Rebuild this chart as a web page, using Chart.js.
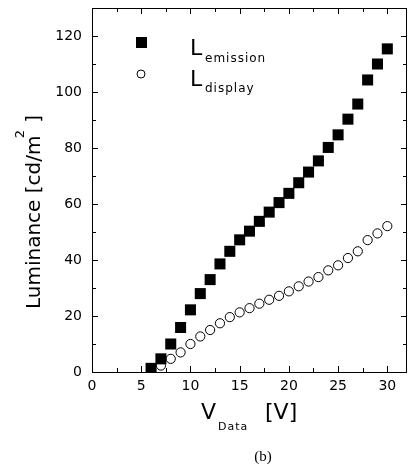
<!DOCTYPE html>
<html>
<head>
<meta charset="utf-8">
<script src="https://cdn.jsdelivr.net/npm/chart.js@4/dist/chart.umd.min.js"></script>
<style>
  html, body { margin: 0; padding: 0; background: #fff; }
  #wrap { width: 408px; height: 469px; }
</style>
</head>
<body>
<div id="wrap"><canvas id="lumChart" width="408" height="469"></canvas></div>
<script>
// voltages (V_Data)
const vData = [6, 7, 8, 9, 10, 11, 12, 13, 14, 15, 16, 17, 18, 19, 20, 21, 22, 23, 24, 25, 26, 27, 28, 29, 30];
// luminance values
const lEmission = [1.3, 4.7, 10, 15.9, 22.2, 28, 33, 38.6, 43.1, 47.2, 50.3, 53.8, 57.1, 60.5, 63.8, 67.6, 71.4, 75.4, 80.2, 84.7, 90.3, 95.7, 104.3, 110, 115.4];
const lDisplay = [0.7, 2.3, 4.7, 7, 10, 12.7, 15, 17.4, 19.6, 21.3, 22.8, 24.4, 25.8, 27.2, 28.8, 30.6, 32.3, 33.9, 36.3, 38.1, 40.7, 43.1, 47.1, 49.5, 52.1];
const xTicks = [0, 5, 10, 15, 20, 25, 30];
const yTicks = [0, 20, 40, 60, 80, 100, 120];

const toPts = (ys) => vData.map((v, i) => ({ x: v, y: ys[i] }));
const tickFont = { family: 'DejaVu Sans', size: 14 };

// inward ticks on all four sides, titles and the custom legend
const decor = {
  id: 'decor',
  afterDraw(chart) {
    const { ctx, chartArea: a, scales: { x, y } } = chart;
    ctx.save();
    ctx.strokeStyle = '#000';
    ctx.lineWidth = 1;
    ctx.beginPath();
    for (let v = 0; v <= 32; v += 2.5) {
      const px = Math.round(x.getPixelForValue(v)) + 0.5;
      const len = v % 5 === 0 ? 6 : 4;
      ctx.moveTo(px, a.bottom); ctx.lineTo(px, a.bottom - len);
      ctx.moveTo(px, a.top); ctx.lineTo(px, a.top + len);
    }
    for (let v = 0; v <= 130; v += 10) {
      const py = Math.round(y.getPixelForValue(v)) + 0.5;
      const len = v % 20 === 0 ? 6 : 4;
      ctx.moveTo(a.left, py); ctx.lineTo(a.left + len, py);
      ctx.moveTo(a.right, py); ctx.lineTo(a.right - len, py);
    }
    ctx.stroke();
    ctx.strokeRect(a.left + 0.5, a.top + 0.5, a.right - a.left - 1, a.bottom - a.top);

    // legend
    ctx.fillStyle = '#000';
    ctx.fillRect(136, 37, 11, 11);
    ctx.beginPath();
    ctx.arc(141, 74, 4, 0, Math.PI * 2);
    ctx.stroke();
    ctx.textBaseline = 'alphabetic';
    ctx.textAlign = 'left';
    ctx.font = '22px "DejaVu Sans"';
    ctx.fillText('L', 190, 55);
    ctx.fillText('L', 190, 86);
    ctx.letterSpacing = '1px';
    ctx.font = '12px "DejaVu Sans"';
    ctx.fillText('emission', 205, 62);
    ctx.fillText('display', 205, 92);

    // x title
    ctx.letterSpacing = '0px';
    ctx.font = '22px "DejaVu Sans"';
    ctx.fillText('V', 201, 419);
    ctx.fillText('[V]', 265, 419);
    ctx.letterSpacing = '1px';
    ctx.font = '11px "DejaVu Sans"';
    ctx.fillText('Data', 218, 430);
    ctx.letterSpacing = '0px';

    // y title
    ctx.save();
    ctx.translate(40, 212);
    ctx.rotate(-Math.PI / 2);
    ctx.textAlign = 'center';
    ctx.font = '20px "DejaVu Sans"';
    ctx.fillText('Luminance [cd/m  ]', 0, 0);
    ctx.font = '13px "DejaVu Sans"';
    ctx.fillText('2', 78, -16);
    ctx.restore();

    // caption
    ctx.textAlign = 'center';
    ctx.font = '15px "Liberation Serif"';
    ctx.fillText('(b)', 263, 461);
    ctx.restore();
  }
};

new Chart(document.getElementById('lumChart'), {
  type: 'scatter',
  data: {
    datasets: [
      {
        label: 'L emission',
        data: toPts(lEmission),
        pointStyle: 'rect',
        pointRadius: 7.8,
        backgroundColor: '#000',
        borderColor: '#000',
        borderWidth: 0
      },
      {
        label: 'L display',
        data: toPts(lDisplay),
        pointStyle: 'circle',
        pointRadius: 4.6,
        backgroundColor: '#fff',
        borderColor: '#000',
        borderWidth: 1
      }
    ]
  },
  options: {
    responsive: false,
    animation: false,
    layout: { autoPadding: false, padding: { top: 8, right: 1, left: 0, bottom: 0 } },
    plugins: { legend: { display: false }, tooltip: { enabled: false } },
    scales: {
      x: {
        type: 'linear',
        min: 0,
        max: 32,
        afterBuildTicks: (s) => { s.ticks = xTicks.map(v => ({ value: v })); },
        afterFit: (s) => { s.height = 97; s.paddingLeft = 0; s.paddingRight = 0; },
        grid: { display: false, drawTicks: false },
        border: { display: false },
        ticks: { color: '#000', font: tickFont, padding: 6, maxRotation: 0 }
      },
      y: {
        type: 'linear',
        min: 0,
        max: 130,
        afterBuildTicks: (s) => { s.ticks = yTicks.map(v => ({ value: v })); },
        afterFit: (s) => { s.width = 92; s.paddingTop = 0; s.paddingBottom = 0; },
        grid: { display: false, drawTicks: false },
        border: { display: false },
        ticks: { color: '#000', font: tickFont, padding: 10 }
      }
    }
  },
  plugins: [decor]
});
</script>
</body>
</html>
